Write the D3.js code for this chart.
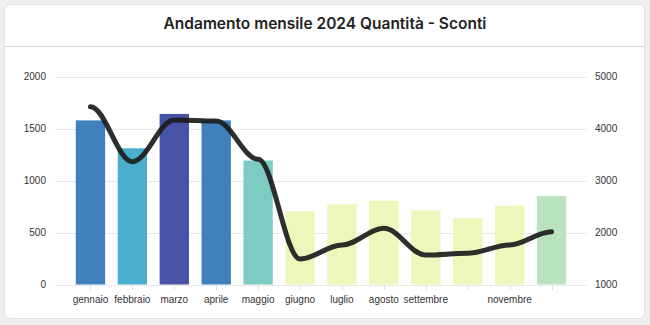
<!DOCTYPE html>
<html><head><meta charset="utf-8">
<script src="https://cdn.jsdelivr.net/npm/d3@7/dist/d3.min.js"></script>
<style>
html,body{margin:0;padding:0;background:#efefef;}
svg{display:block;}
</style></head>
<body><svg id="c" width="650" height="325"></svg>
<script>
const months = ["gennaio","febbraio","marzo","aprile","maggio","giugno","luglio","agosto","settembre","ottobre","novembre","dicembre"];
const shownLabels = ["gennaio","febbraio","marzo","aprile","maggio","giugno","luglio","agosto","settembre","novembre"];
const quantita = [1578,1310,1640,1578,1192,705,770,805,712,638,758,850];
const sconti = [4420,3361,4165,4144,3410,1490,1760,2080,1567,1600,1760,2015];
const barColors = ["#3f80bd","#4aaecd","#4753a6","#3f80bd","#7ecbc4","#edf7bc","#edf7bc","#edf7bc","#edf7bc","#edf7bc","#edf7bc","#b9e3bf"];
const leftTicks = [0,500,1000,1500,2000];
const rightTicks = [1000,2000,3000,4000,5000];
const title = "Andamento mensile 2024 Quantità - Sconti";

const svg = d3.select("#c");
svg.append("rect").attr("x",4.5).attr("y",4.5).attr("width",640).attr("height",314).attr("rx",6)
  .attr("fill","#fff").attr("stroke","#e2e2e2");
svg.append("text").attr("x",325).attr("y",29).attr("text-anchor","middle")
  .attr("font-family","Inter, Roboto, sans-serif").attr("font-weight",600).attr("font-size",15.5)
  .attr("fill","#222").text(title);
svg.append("line").attr("x1",5).attr("x2",644).attr("y1",46.5).attr("y2",46.5).attr("stroke","#d6d6d6");

const x = d3.scaleBand().domain(months).range([69.5,572.5]).paddingInner(0.3).paddingOuter(0.15);
const yL = d3.scaleLinear().domain([0,2000]).range([284.5,76.5]);
const yR = d3.scaleLinear().domain([1000,5000]).range([284.5,76.5]);
const font = "Liberation Sans, Arial, sans-serif";

svg.append("g").selectAll("line").data(leftTicks).join("line")
  .attr("x1",55).attr("x2",586).attr("y1",d=>Math.round(yL(d))+0.5).attr("y2",d=>Math.round(yL(d))+0.5)
  .attr("stroke","#e8e8e8");
svg.append("g").selectAll("text").data(leftTicks).join("text")
  .attr("x",46).attr("y",d=>yL(d)+3.5).attr("text-anchor","end")
  .attr("font-family",font).attr("font-size",10).attr("fill","#333").text(d=>d);
svg.append("g").selectAll("text").data(rightTicks).join("text")
  .attr("x",595).attr("y",d=>yR(d)+3.5).attr("text-anchor","start")
  .attr("font-family",font).attr("font-size",10).attr("fill","#333").text(d=>d);
const xc = d=>x(d)+x.bandwidth()/2;
svg.append("g").selectAll("line").data(months).join("line")
  .attr("x1",d=>Math.round(xc(d))+0.5).attr("x2",d=>Math.round(xc(d))+0.5)
  .attr("y1",285).attr("y2",290).attr("stroke","#e0e0e0");
svg.append("g").selectAll("text").data(shownLabels).join("text")
  .attr("x",d=>xc(d)).attr("y",303).attr("text-anchor","middle")
  .attr("font-family",font).attr("font-size",10).attr("fill","#333").text(d=>d);

svg.append("g").selectAll("rect").data(months).join("rect")
  .attr("x",d=>x(d)).attr("width",x.bandwidth())
  .attr("y",(d,i)=>yL(quantita[i])).attr("height",(d,i)=>yL(0)-yL(quantita[i]))
  .attr("fill",(d,i)=>barColors[i]);

// smooth line: horizontal tangents at each point
function smoothPath(pts){
  const p = d3.path();
  p.moveTo(pts[0][0], pts[0][1]);
  for (let i=1;i<pts.length;i++){
    const [px,py] = pts[i-1], [X,Y] = pts[i];
    const L = (X-px)*0.35;
    p.bezierCurveTo(px+L,py,X-L,Y,X,Y);
  }
  return p.toString();
}
const pts = sconti.map((v,i)=>[xc(months[i]), yR(v)]);
svg.append("path").attr("d",smoothPath(pts)).attr("fill","none")
  .attr("stroke","#1c1c1c").attr("stroke-opacity",0.92).attr("stroke-width",5)
  .attr("stroke-linecap","round").attr("stroke-linejoin","round");
</script></body></html>
